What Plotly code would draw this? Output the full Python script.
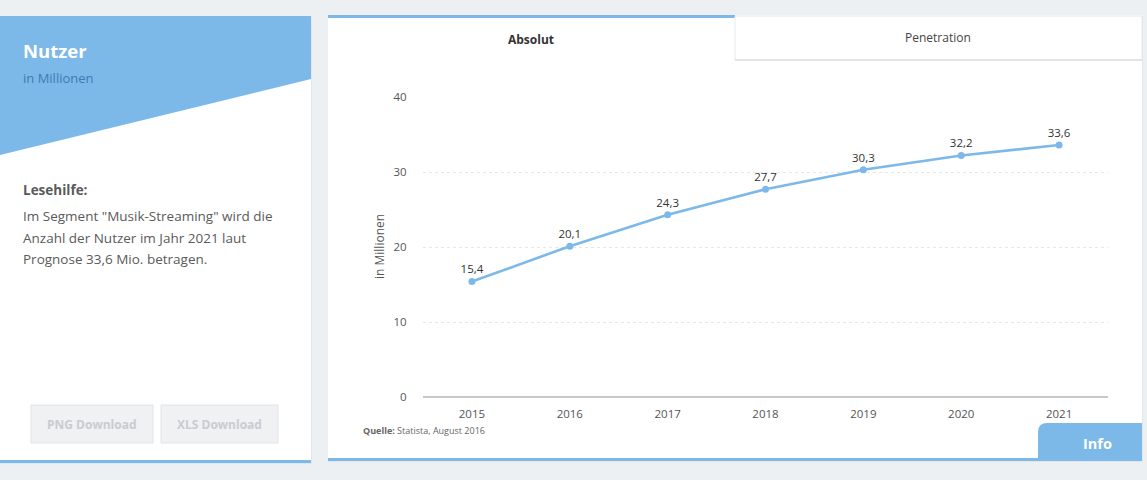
import plotly.graph_objects as go

# ---- data ----
years = ["2015", "2016", "2017", "2018", "2019", "2020", "2021"]
users = [15.4, 20.1, 24.3, 27.7, 30.3, 32.2, 33.6]
y_ticks = [0, 10, 20, 30, 40]
labels = [f"{v:.1f}".replace(".", ",") for v in users]

W, H = 1147, 480
def px(x):
    return x / W
def py(y):
    return 1 - y / H

BLUE = "#7db9e8"
PAGE = "#edf0f3"
SANS = "Open Sans, DejaVu Sans, sans-serif"
NARROW = "Liberation Sans Narrow, Open Sans, sans-serif"

fig = go.Figure()
fig.add_trace(go.Scatter(
    x=years, y=users, mode="lines+markers+text",
    text=labels, textposition="top center",
    textfont=dict(family=SANS, size=11.5, color="#333"),
    line=dict(color=BLUE, width=2.6),
    marker=dict(color=BLUE, size=7),
    hoverinfo="x+y", showlegend=False, cliponaxis=False,
))

shapes = []
def rect(x0, y0, x1, y1, fill, line=None, lw=0):
    shapes.append(dict(type="rect", xref="paper", yref="paper",
                       x0=px(x0), x1=px(x1), y0=py(y1), y1=py(y0),
                       fillcolor=fill, line=dict(color=line or fill, width=lw),
                       layer="below"))

def path(pts, fill):
    d = "M " + " L ".join(f"{px(a)},{py(b)}" for a, b in pts) + " Z"
    shapes.append(dict(type="path", xref="paper", yref="paper", path=d,
                       fillcolor=fill, line=dict(width=0), layer="below"))

# left panel
rect(0, 17, 312, 464, "#e3e7eb")
rect(0, 16, 311, 463, "#ffffff")
path([(0, 16), (311, 16), (311, 79), (0, 155)], BLUE)
rect(0, 460, 311, 463, BLUE)
rect(31, 405, 153, 443, "#eff1f3", "#e2e5e8", 1)
rect(161, 405, 278, 443, "#eff1f3", "#e2e5e8", 1)

# right panel
rect(329, 16, 1143, 462, "#e3e7eb")
rect(328, 15, 1142, 461, "#ffffff")
rect(328, 15, 735, 18, BLUE)
rect(735, 16, 1142, 60, "#ffffff", "#e6e8ea", 1)
rect(735, 59, 1142, 61, "#e2e4e6")
rect(328, 458, 1142, 461, BLUE)
# Info button with rounded top-left corner
r = 9
x0, y0, x1, y1 = 1038, 423, 1142, 461
d = (f"M {px(x0)},{py(y1)} L {px(x0)},{py(y0 + r)} "
     f"Q {px(x0)},{py(y0)} {px(x0 + r)},{py(y0)} "
     f"L {px(x1)},{py(y0)} L {px(x1)},{py(y1)} Z")
shapes.append(dict(type="path", xref="paper", yref="paper", path=d,
                   fillcolor=BLUE, line=dict(width=0), layer="below"))

ann = []
def text(x, y, s, size, color, family=SANS, xanchor="left", angle=0):
    ann.append(dict(x=px(x), y=py(y), xref="paper", yref="paper", text=s,
                    showarrow=False, xanchor=xanchor, yanchor="middle",
                    textangle=angle,
                    font=dict(family=family, size=size, color=color)))

text(21, 51, "<b>Nutzer</b>", 18.5, "#ffffff")
text(21, 78, "in Millionen", 13, "#3f7bb3")
text(21, 190, "<b>Lesehilfe:</b>", 13.5, "#5a5a5a")
text(21, 216, "Im Segment \"Musik-Streaming\" wird die", 13.5, "#5a5a5a")
text(21, 238, "Anzahl der Nutzer im Jahr 2021 laut", 13.5, "#5a5a5a")
text(21, 259, "Prognose 33,6 Mio. betragen.", 13.5, "#5a5a5a")
text(92, 424, "<b>PNG Download</b>", 12, "#c9ccd0", xanchor="center")
text(219.5, 424, "<b>XLS Download</b>", 12, "#c9ccd0", xanchor="center")
text(531, 39, "<b>Absolut</b>", 12, "#333333", NARROW, xanchor="center")
text(938, 37, "Penetration", 12, "#444444", NARROW, xanchor="center")
text(361, 430, "<b>Quelle:</b> Statista, August 2016", 9, "#666666", NARROW)
text(1097, 443, "<b>Info</b>", 14.5, "#ffffff", NARROW, xanchor="center")
text(380, 247, "in Millionen", 12, "#555555", SANS, xanchor="center", angle=-90)

fig.update_layout(
    width=W, height=H, margin=dict(l=0, r=0, t=0, b=0, pad=0, autoexpand=False),
    paper_bgcolor=PAGE, plot_bgcolor="rgba(0,0,0,0)",
    shapes=shapes, annotations=ann, showlegend=False,
    xaxis=dict(domain=[px(423), px(1108)], type="category", automargin=False,
               range=[-0.5, 6.5], showgrid=False, zeroline=False,
               showline=False, ticks="outside", ticklen=6,
               tickcolor="rgba(0,0,0,0)",
               tickfont=dict(family=NARROW, size=11.5, color="#555")),
    yaxis=dict(domain=[py(397), py(97)], range=[0, 40], tickvals=y_ticks,
               automargin=False,
               showgrid=True, gridcolor="#e6e6e6", griddash="dot",
               gridwidth=1, zeroline=True, zerolinecolor="#c9c9c9",
               zerolinewidth=2, showline=False, ticks="outside",
               ticklen=13, tickcolor="rgba(0,0,0,0)",
               tickfont=dict(family=NARROW, size=11.5, color="#555")),
)

fig.write_html("out.html", config={"displayModeBar": False},
               post_script="document.body.style.margin='0';document.body.style.overflow='hidden';")
